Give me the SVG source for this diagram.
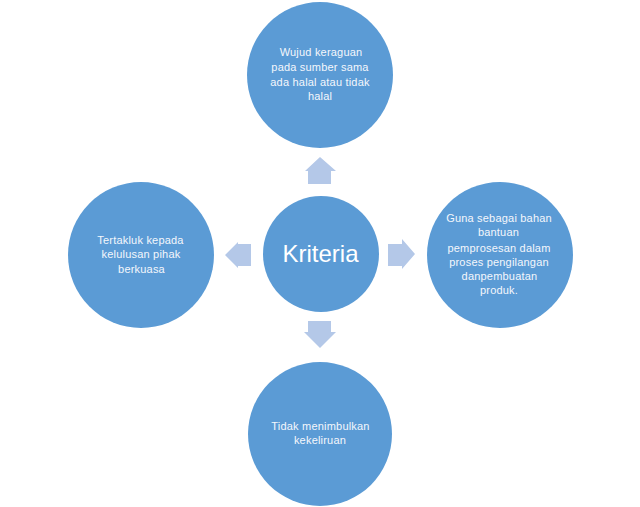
<svg xmlns="http://www.w3.org/2000/svg" width="640" height="507" viewBox="0 0 640 507">
<style>
.node{fill:#5B9BD5}
.arr{fill:#B4C8E8}
.t{font-family:"Liberation Sans",Arial,sans-serif;font-size:11px;fill:#F4F7FC;text-anchor:middle;letter-spacing:0.2px}
.big{font-family:"Liberation Sans",Arial,sans-serif;font-size:24px;fill:#FFFFFF;text-anchor:middle}
</style>
<rect width="640" height="507" fill="#FFFFFF"/>
<g id="connectors">
<polygon class="arr" points="320,157 336,171 331,171 331,184 308,184 308,171 305,171"/>
<polygon class="arr" points="308,321 331,321 331,332 336,332 320,348 304,332 308,332"/>
<polygon class="arr" points="225,255 238,242 238,244 251,244 251,266 238,266 238,268"/>
<polygon class="arr" points="415,254 402,239 402,244 388,244 388,266 402,266 402,269"/>
</g>
<g id="center">
<circle class="node" cx="321" cy="254" r="58"/>
<text class="big" x="320.5" y="262">Kriteria</text>
</g>
<g id="top">
<circle class="node" cx="320" cy="75" r="73"/>
<text class="t" x="321" y="56">Wujud keraguan</text>
<text class="t" x="320" y="71">pada sumber sama</text>
<text class="t" x="320" y="85.5">ada halal atau tidak</text>
<text class="t" x="320" y="100">halal</text>
</g>
<g id="left">
<circle class="node" cx="141" cy="255" r="73"/>
<text class="t" x="140.5" y="244">Tertakluk kepada</text>
<text class="t" x="141" y="258">kelulusan pihak</text>
<text class="t" x="141.5" y="273">berkuasa</text>
</g>
<g id="right">
<circle class="node" cx="500" cy="255" r="73"/>
<text class="t" x="499" y="222">Guna sebagai bahan</text>
<text class="t" x="498.5" y="236">bantuan</text>
<text class="t" x="499" y="252">pemprosesan dalam</text>
<text class="t" x="499" y="266">proses pengilangan</text>
<text class="t" x="499.5" y="280">danpembuatan</text>
<text class="t" x="499" y="294">produk.</text>
</g>
<g id="bottom">
<circle class="node" cx="320" cy="434" r="72"/>
<text class="t" x="320.5" y="430">Tidak menimbulkan</text>
<text class="t" x="320" y="444">kekeliruan</text>
</g>
</svg>
